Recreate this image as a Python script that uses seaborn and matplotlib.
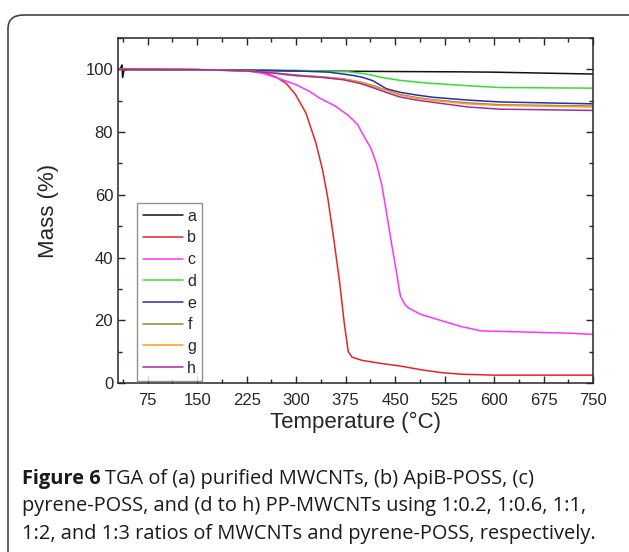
import numpy as np
import pandas as pd
import seaborn as sns
import matplotlib.pyplot as plt
from matplotlib.patches import FancyBboxPatch
from matplotlib.ticker import MultipleLocator

# TGA curves (temperature in degC, mass in %)
t_a = [30, 34, 36, 37, 39, 45, 150, 300, 450, 550, 600, 650, 700, 750]
m_a = [100, 100.4, 101.4, 97.4, 99.7, 99.9, 99.8, 99.5, 99.3, 99.2, 99.1, 98.9, 98.7, 98.5]

t_b = [30, 150, 225, 250, 270, 285, 299, 315, 330, 340, 348, 357, 366, 373, 379, 385, 400, 430, 458, 490, 520, 550, 600, 750]
m_b = [100, 99.9, 99.6, 99.0, 97.5, 95.5, 92, 86, 76.5, 68, 59, 46, 32, 19, 10, 8.2, 7.2, 6.2, 5.4, 4.2, 3.3, 2.8, 2.5, 2.5]

t_c = [30, 150, 225, 250, 275, 299, 320, 336, 360, 379, 393, 403, 413, 422, 430, 437, 445, 452, 458, 465, 471, 490, 520, 550, 581, 620, 673, 710, 750]
m_c = [100, 99.9, 99.5, 98.7, 97, 95.2, 93, 90.8, 88.2, 85.3, 82.5, 78.6, 75, 69.8, 63, 54.3, 44, 35.4, 27.7, 25, 23.8, 21.8, 19.9, 18, 16.6, 16.4, 16.1, 15.9, 15.5]

t_d = [30, 150, 300, 350, 380, 407, 430, 457, 500, 559, 610, 750]
m_d = [100, 99.9, 99.7, 99.4, 99.2, 98.5, 97.4, 96.5, 95.6, 94.8, 94.2, 94.0]

t_e = [30, 150, 250, 300, 350, 385, 400, 416, 437, 457, 480, 507, 560, 609, 750]
m_e = [100, 99.9, 99.7, 99.5, 99.1, 98.1, 97.5, 96.4, 93.8, 92.7, 91.9, 91.1, 90.2, 89.6, 89.0]

t_f = [30, 150, 225, 256, 300, 340, 371, 397, 420, 437, 457, 480, 507, 560, 609, 750]
m_f = [100, 99.9, 99.6, 99.1, 98.2, 97.6, 97.0, 96.0, 94.6, 93.3, 92.0, 91.1, 90.3, 89.3, 88.7, 88.3]

t_g = [30, 150, 225, 256, 300, 340, 371, 397, 420, 437, 457, 480, 507, 560, 609, 750]
m_g = [100, 99.9, 99.5, 99.0, 98.0, 97.5, 96.9, 95.9, 94.4, 93.2, 91.8, 90.9, 90.1, 89.0, 88.5, 88.0]

t_h = [30, 150, 225, 256, 300, 340, 371, 397, 420, 437, 457, 480, 507, 560, 609, 750]
m_h = [100, 99.9, 99.5, 99.0, 98.0, 97.4, 96.7, 95.5, 93.9, 92.6, 91.2, 90.3, 89.5, 88.0, 87.3, 86.9]

labels = ['a', 'b', 'c', 'd', 'e', 'f', 'g', 'h']
colors = ['#111111', '#e8222a', '#ff33ff', '#33e033', '#2a2ab8', '#8a8a30', '#ff9a1a', '#a52ca5']
temps = [t_a, t_b, t_c, t_d, t_e, t_f, t_g, t_h]
masses = [m_a, m_b, m_c, m_d, m_e, m_f, m_g, m_h]

rows = []
for lab, tt, mm in zip(labels, temps, masses):
    for t, m in zip(tt, mm):
        rows.append((lab, t, m))
df = pd.DataFrame(rows, columns=['sample', 'Temperature', 'Mass'])

sns.set_style('ticks')
plt.rcParams['font.family'] = ['Liberation Sans', 'DejaVu Sans']

fig = plt.figure(figsize=(6.29, 5.52), dpi=100)
ax = fig.add_axes([0.1876, 0.3062, 0.7552, 0.625])

sns.lineplot(data=df, x='Temperature', y='Mass', hue='sample', hue_order=labels,
             palette=dict(zip(labels, colors)), estimator=None, sort=False,
             linewidth=1.1, ax=ax)

ax.set_xlim(30, 750)
ax.set_ylim(0, 110)
ax.xaxis.set_minor_locator(MultipleLocator(37.5))
ax.yaxis.set_minor_locator(MultipleLocator(10))
ax.set_xticks(np.arange(75, 751, 75))
ax.set_yticks(np.arange(0, 101, 20))
ax.tick_params(which='both', direction='in', top=True, right=True, labelsize=12, width=1)
ax.tick_params(which='major', length=5)
ax.tick_params(which='minor', length=3)
ax.tick_params(axis='x', which='major', pad=7)
for s in ax.spines.values():
    s.set_linewidth(1.1)
ax.set_xlabel('Temperature (°C)', fontsize=16, labelpad=3)
ax.set_ylabel('Mass (%)', fontsize=16, labelpad=19)

leg = ax.legend(loc='lower left', bbox_to_anchor=(0.04, 0.005), borderaxespad=0,
                fontsize=11.5, handlelength=2.5, handletextpad=0.3, labelspacing=0.42,
                fancybox=False, frameon=True, borderpad=0.35)
leg.get_frame().set_edgecolor('#777777')
leg.get_frame().set_linewidth(1.0)
for line in leg.get_lines():
    line.set_linewidth(1.1)

# panel frame around the figure
frame = FancyBboxPatch((8 / 629, -0.05), 1.1, 1.0 - 15 / 552 + 0.05,
                       boxstyle='round,pad=0,rounding_size=0.025',
                       transform=fig.transFigure, fill=False,
                       edgecolor='#444444', linewidth=1.2, clip_on=False)
fig.patches.append(frame)

cap_font = ['Open Sans', 'DejaVu Sans']
cap_size = 14.4
cap_lines = [
    'TGA of (a) purified MWCNTs, (b) ApiB-POSS, (c)',
    'pyrene-POSS, and (d to h) PP-MWCNTs using 1:0.2, 1:0.6, 1:1,',
    '1:2, and 1:3 ratios of MWCNTs and pyrene-POSS, respectively.',
]
t0 = fig.text(22 / 629, 1 - 484 / 552, 'Figure 6', fontsize=cap_size, fontweight='bold',
              family=cap_font, color='#1a1a1a', va='baseline')
fig.canvas.draw()
bb = t0.get_window_extent()
x_next = (bb.x1 + 4) / fig.bbox.width
fig.text(x_next, 1 - 484 / 552, cap_lines[0], fontsize=cap_size, family=cap_font,
         color='#1a1a1a', va='baseline')
fig.text(22 / 629, 1 - 511 / 552, cap_lines[1], fontsize=cap_size, family=cap_font,
         color='#1a1a1a', va='baseline')
fig.text(22 / 629, 1 - 539 / 552, cap_lines[2], fontsize=cap_size, family=cap_font,
         color='#1a1a1a', va='baseline')

fig.savefig('out.png', dpi=100, facecolor='white')
